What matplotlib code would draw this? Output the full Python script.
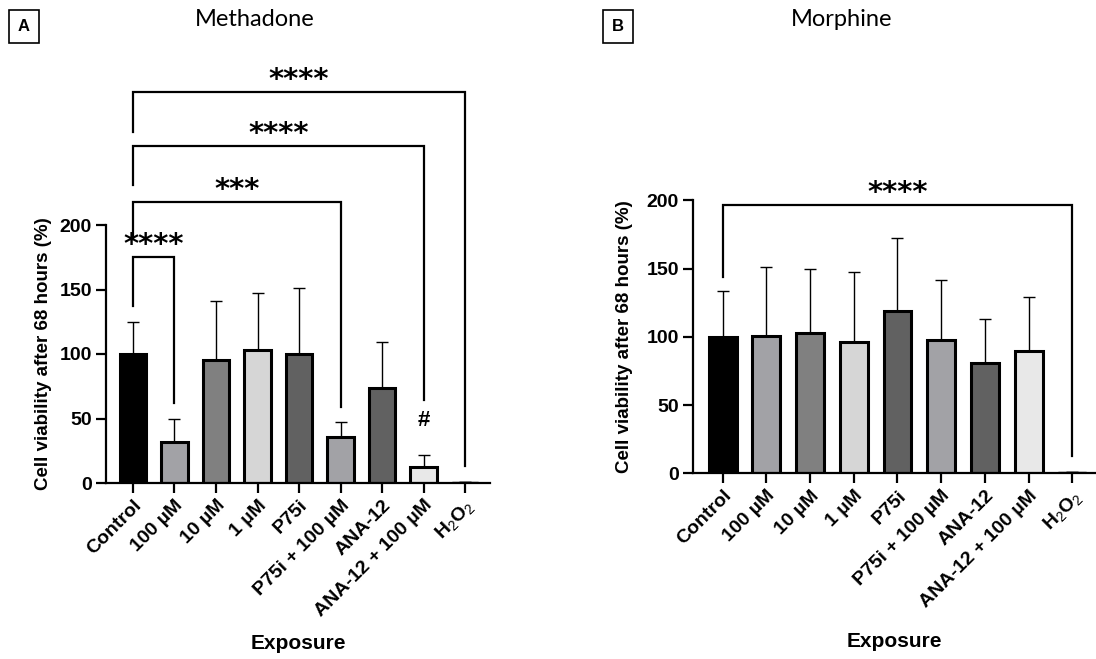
import numpy as np
import matplotlib
matplotlib.use('Agg')
import matplotlib.pyplot as plt

plt.rcParams['font.family'] = ['Liberation Sans', 'DejaVu Sans']
plt.rcParams['mathtext.fontset'] = 'custom'
plt.rcParams['mathtext.rm'] = 'Liberation Sans'

groups = ['Control', '100 µM', '10 µM', '1 µM', 'P75i', 'P75i + 100 µM',
          'ANA-12', 'ANA-12 + 100 µM', r'H$_2$O$_2$']

# means and (upper) SD
meth_mean = [100, 32, 95.5, 103, 100, 36, 73.5, 12.5, 1]
meth_sd = [24.5, 18, 45.5, 44.5, 51.5, 11.5, 36, 9, 0]
morph_mean = [100, 100.5, 102.5, 96.5, 119, 98, 80.5, 89.5, 1]
morph_sd = [33.5, 51, 47.5, 51, 53.5, 44, 32.5, 40, 0]

# significance brackets: (from, to, height, left end, right end, label)
meth_brackets = [(0, 1, 175, 137, 62, '****'),
                 (0, 5, 218, 190, 59, '***'),
                 (0, 7, 261, 231, 64, '****'),
                 (0, 8, 303, 272, 13, '****')]
morph_brackets = [(0, 8, 197, 144, 13, '****')]

colors = ['#000000', '#a2a2a6', '#808080', '#d6d6d6', '#616161',
          '#a2a2a6', '#616161', '#e8e8e8', '#ffffff']
edge_lw = [2.2] * 8 + [1.0]

fig = plt.figure(figsize=(10.96, 6.59), dpi=100)
W, H = 1096, 659


def panel(rect, mean, sd, brackets, ymax, xlim, title, title_x, letter, box_x,
          ylab_x, xlab_y, ppu):
    ax = fig.add_axes(rect)
    x = np.arange(len(groups))
    err_lo = np.zeros(len(sd))
    ax.errorbar(x, mean, yerr=[err_lo, sd], fmt='none', ecolor='black',
                elinewidth=1.0, capsize=4, capthick=1.0, zorder=1)
    ax.bar(x, mean, width=0.64, color=colors, edgecolor='black',
           linewidth=edge_lw, zorder=2)
    ax.set_ylim(0, ymax)
    ax.set_xlim(*xlim)
    for s in ['top', 'right']:
        ax.spines[s].set_visible(False)
    for s in ['left', 'bottom']:
        ax.spines[s].set_linewidth(1.6)
    ax.spines['left'].set_bounds(0, 200)
    ax.set_yticks([0, 50, 100, 150, 200])
    ax.set_xticks(x)
    ax.set_xticklabels(groups, rotation=45, ha='right', rotation_mode='anchor',
                       fontsize=14, fontweight='bold')
    for t in ax.get_yticklabels():
        t.set_fontweight('bold')
        t.set_fontsize(14)
    ax.tick_params(axis='both', length=7, width=1.6, pad=3)
    ax.set_ylabel('Cell viability after 68 hours (%)', fontsize=13.5,
                  fontweight='bold')
    ax.yaxis.set_label_coords(ylab_x, 100 / ymax)
    ax.text(0.5, xlab_y, 'Exposure', transform=ax.transAxes, ha='center',
            va='center', fontsize=15, fontweight='bold')
    for i, j, y, l_end, r_end, lab in brackets:
        ax.plot([i, i, j, j], [l_end, y, y, r_end], color='black', lw=1.6,
                clip_on=False, solid_joinstyle='miter')
        ax.text((i + j) / 2, y + 4 / ppu, lab, ha='center', va='baseline',
                fontsize=21, fontweight='bold', family='DejaVu Sans',
                clip_on=False)
    fig.text(title_x / W, 1 - 19 / H, title, ha='center', va='center',
             fontsize=17, family=['Lato', 'DejaVu Sans'])
    fig.text(box_x / W, 1 - 26.5 / H, letter, ha='center', va='center',
             fontsize=12, fontweight='bold',
             bbox=dict(boxstyle='square,pad=0.55', fc='white', ec='black',
                       lw=1.2))
    return ax


# panel A: axis x 106..490, bottom y 483, 1.29 px per unit
axA = panel([106 / W, (H - 483) / H, (490 - 106) / W, 330 * 1.29 / H],
            meth_mean, meth_sd, meth_brackets, 330, (-0.65, 8.6),
            'Methadone', 255, 'A', 24, -0.14, -0.376, 1.29)
axA.text(7, 40, '#', ha='center', va='bottom', fontsize=16,
         fontweight='bold')

# panel B: axis x 693..1095, bottom y 473, 1.364 px per unit
axB = panel([693 / W, (H - 473.3) / H, (1095 - 693) / W, 220 * 1.364 / H],
            morph_mean, morph_sd, morph_brackets, 220, (-0.68, 8.52),
            'Morphine', 842, 'B', 618, -0.149, -0.561, 1.364)

fig.savefig('out.png', dpi=100)
